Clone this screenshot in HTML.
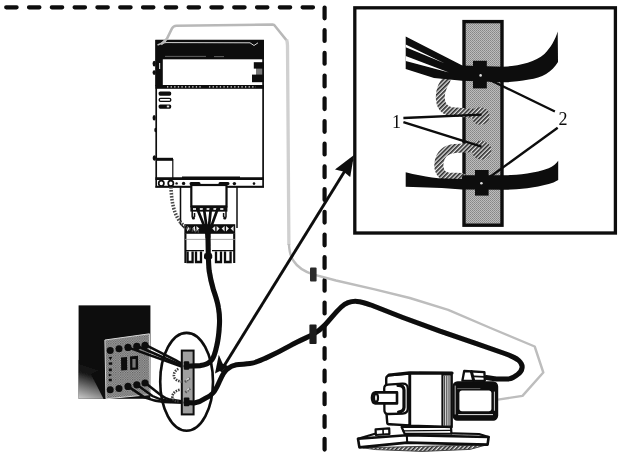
<!DOCTYPE html>
<html><head><meta charset="utf-8">
<style>
html,body{margin:0;padding:0;background:#fff;}
body{width:626px;height:461px;overflow:hidden;font-family:"Liberation Serif",serif;}
svg{display:block;}
</style></head><body>
<svg width="626" height="461" viewBox="0 0 626 461">
<defs>
<pattern id="dots" width="2" height="2" patternUnits="userSpaceOnUse"><rect width="2" height="2" fill="#bcbcbc"/><rect width="1" height="1" fill="#868686"/><rect x="1" y="1" width="1" height="1" fill="#929292"/></pattern>
<pattern id="hatch" width="3" height="3" patternUnits="userSpaceOnUse" patternTransform="rotate(-45)"><rect width="3" height="3" fill="#e6e6e6"/><rect width="3" height="1.65" fill="#2c2c2c"/></pattern>
<filter id="soft" x="-5%" y="-5%" width="110%" height="110%"><feGaussianBlur stdDeviation="0.45"/></filter>
</defs>
<rect width="626" height="461" fill="#fff"/>
<g filter="url(#soft)">
<!-- DASHED BORDERS -->
<g id="dashes" stroke="#0a0a0a" stroke-width="4.2" stroke-linecap="round" fill="none">
<path d="M6.2 7.3H315" stroke-dasharray="10.4 12.4"/>
<path d="M324.6 7.5V450" stroke-dasharray="10.8 11.9"/>
</g>
<!-- INSET BOX -->
<rect id="inset" x="354.8" y="7.8" width="260.6" height="225.2" fill="#fff" stroke="#0a0a0a" stroke-width="3.3"/>
<g id="insetc">
<!-- grey bar -->
<rect x="464" y="21.6" width="38" height="203.6" fill="url(#dots)" stroke="#0d0d0d" stroke-width="3.4"/>
<!-- hatched loops -->
<g fill="none" stroke="url(#hatch)" stroke-width="9" stroke-linecap="round" stroke-linejoin="round">
<path d="M446 80 C441 88 439 96 441 103 C443 110 449 112 456 112 L474 113.5 C480 110 486 112 485 117 C484 121 479 121 477 119"/>
<path d="M462 177.5 L448 177 C441 176 438 170 439 163 C440 154 446 149 455 148.5 L474 147.5 C480 143 488 146 487 151 C486 156 480 156 477 153"/>
</g>
<!-- top wires -->
<g fill="#0a0a0a" stroke="none">
<path d="M405.7 36.5 L462.3 65.6 L503 66.7 C520 66 535 62 544.4 54 C551 47 555 40 557.7 31.4 L558 62 C552 72 542 78 528.8 79.6 C520 81 512 82.3 503 82.3 L462.3 80.8 L434 78 L405.7 68.9 Z"/>
<path d="M405.7 44.4 L405.7 47.3 L445 63.6 Z" fill="#fff"/>
<path d="M405.7 56.1 L405.7 61 L449 72.6 Z" fill="#fff"/>
<rect x="473" y="60.8" width="13.8" height="27.6"/>
<!-- lower cable -->
<path d="M405.7 172.3 C415 174.6 424 176.4 432 177.6 C440 178.6 450 179 461.6 179 L462.6 175.3 L503.8 175.3 C518 175.3 534 173.5 548.7 168.3 C553 166.5 556 164 558.2 160.8 L558.2 180 C555 182 552 183.2 548.7 184 C534 187.8 518 189.8 503.8 189.8 L462 189.6 C445 187.6 425 187.6 405.7 186.8 Z"/>
<rect x="475" y="170" width="13.6" height="25.6"/>
</g>
<!-- leaders -->
<g stroke="#0a0a0a" stroke-width="2.3" fill="none" stroke-linecap="butt">
<path d="M403.4 118 L481.5 114.6"/>
<path d="M403.4 122.2 L481.5 146.6"/>
<path d="M554.9 111.5 L481 75.6"/>
<path d="M557.7 127.7 L481.5 183"/>
</g>
<circle cx="480.6" cy="75.4" r="1.3" fill="#ddd"/>
<circle cx="481.4" cy="183.2" r="1.3" fill="#ddd"/>
<text x="392" y="127.7" font-family="Liberation Serif, serif" font-size="18" fill="#0a0a0a">1</text>
<text x="558.6" y="124.8" font-family="Liberation Serif, serif" font-size="18" fill="#0a0a0a">2</text>
</g>
<g id="drive">
<!-- body -->
<rect x="156.2" y="40.6" width="106.9" height="146" fill="#fff" stroke="#0d0d0d" stroke-width="1.7"/>
<!-- header black -->
<rect x="155.4" y="40" width="108.6" height="19.3" fill="#0a0a0a"/>
<path d="M160 43.6 L166 42.6 L250 42.8 L254 45.5 L258 42.8" stroke="#d8d8d8" stroke-width="1" fill="none"/>
<path d="M157.5 45 L166 41.5" stroke="#bbb" stroke-width="1.6" fill="none"/>
<path d="M165 56.4 H206 M214 56.6 H224" stroke="#888" stroke-width="0.7" fill="none"/>
<!-- upper panel -->
<rect x="155.4" y="59" width="7.4" height="27" fill="#0a0a0a"/>
<rect x="159" y="63" width="1.2" height="6" fill="#ccc"/>
<rect x="253.8" y="62.2" width="10" height="6.4" fill="#0a0a0a"/>
<rect x="252" y="74.6" width="11.8" height="7.6" fill="#0a0a0a"/>
<rect x="256" y="68" width="8" height="7" fill="#0a0a0a" opacity="0.55"/>
<!-- dotted band -->
<rect x="155.4" y="85" width="108.6" height="3.8" fill="#0a0a0a"/>
<path d="M167 86.9 H203 M209 86.9 H256" stroke="#e8e8e8" stroke-width="1.2" stroke-dasharray="1.3 2.3" fill="none"/>
<!-- side knobs -->
<g fill="#0a0a0a">
<ellipse cx="154.2" cy="63.6" rx="1.6" ry="2.8"/><ellipse cx="154.2" cy="72.6" rx="1.6" ry="2.4"/>
<ellipse cx="154.2" cy="117.8" rx="1.6" ry="2.8"/><ellipse cx="155.6" cy="130" rx="1.3" ry="2.2"/>
<ellipse cx="154.4" cy="158" rx="1.7" ry="2.8"/>
</g>
<!-- labels -->
<rect x="158.6" y="91.4" width="12.6" height="4.3" rx="1.6" fill="#0a0a0a"/>
<rect x="159.2" y="98.4" width="11.6" height="3" rx="1.4" fill="#fff" stroke="#0a0a0a" stroke-width="1.3"/>
<rect x="158.6" y="104.5" width="12.6" height="4.2" rx="1.6" fill="#0a0a0a"/>
<rect x="166.8" y="105.6" width="2.4" height="1.8" fill="#ddd"/>
<!-- small box lower-left -->
<rect x="156" y="157.8" width="17" height="3" fill="#0a0a0a"/>
<path d="M172.8 159 V178.5" stroke="#0d0d0d" stroke-width="1.2" fill="none"/>
<!-- bottom band -->
<path d="M155.4 178.6 H264" stroke="#0a0a0a" stroke-width="2.6" fill="none"/>
<path d="M155.4 186.9 H264" stroke="#0a0a0a" stroke-width="1.5" fill="none"/>
<path d="M182 178 H240" stroke="#0a0a0a" stroke-width="3" fill="none"/>
<g fill="#fff" stroke="#0a0a0a" stroke-width="1.7"><ellipse cx="161.3" cy="183.3" rx="2.6" ry="2.7"/><ellipse cx="170.8" cy="183.3" rx="2.6" ry="2.7"/></g>
<g fill="#0a0a0a"><circle cx="183.6" cy="183.4" r="1.7"/><circle cx="234.4" cy="183.6" r="1.7"/><circle cx="254" cy="183.6" r="1.3"/><circle cx="176.6" cy="183.4" r="1.2"/></g>
<!-- bracket -->
<path d="M180.5 186.5 V224 L184.4 228 M237 186.5 V228" stroke="#0d0d0d" stroke-width="1.5" fill="none"/>
<rect x="191.3" y="185" width="35.2" height="21.4" fill="#fff" stroke="#0a0a0a" stroke-width="2.2"/>
<path d="M191 183.6 H199 M220 183.6 H228" stroke="#0a0a0a" stroke-width="3" stroke-linecap="round"/>
<!-- terminal row -->
<rect x="190.4" y="206.2" width="37" height="5.4" fill="#0a0a0a"/>
<path d="M193 208.9 H226" stroke="#d0d0d0" stroke-width="2" stroke-dasharray="3.2 3.6" fill="none"/>
<path d="M192.2 211 V217.5 M226 211 V217.5 M194.5 213 V217 M223.6 213 V217" stroke="#0a0a0a" stroke-width="1.5" fill="none"/>
<circle cx="193.4" cy="218" r="1.6" fill="#0a0a0a"/><circle cx="224.8" cy="218" r="1.6" fill="#0a0a0a"/>
<!-- dark band with marks -->
<rect x="184.4" y="224.2" width="50.8" height="9.6" fill="#0a0a0a"/>
<g fill="#e8e8e8"><path d="M187 226 l3 2.6 l-3 2.8 z M195 226 l-3 2.6 l3 2.8 z M196.4 226 l3 2.6 l-3 2.8 z"/>
<path d="M215.2 226 l-3 2.6 l3 2.8 z M216.6 226 l3 2.6 l-3 2.8 z M224.6 226 l-3 2.6 l3 2.8 z M226 226 l3 2.6 l-3 2.8 z M233.6 226 l-3 2.6 l3 2.8 z"/></g>
<!-- lower block -->
<path d="M185.4 233.5 V263 M234.2 233.5 V263" stroke="#0d0d0d" stroke-width="2.1" fill="none"/>
<path d="M185 239.4 H235" stroke="#999" stroke-width="0.8" fill="none"/>
<g fill="none" stroke="#0a0a0a" stroke-width="2.3">
<path d="M187.6 251.4 V262 H192.6 V251.4"/><path d="M196 251.4 V262 H201 V251.4"/>
<path d="M216 251.4 V262 H221 V251.4"/><path d="M225 251.4 V262 H230.6 V251.4"/>
</g>
<path d="M185 250.6 H204 M212 250.6 H235" stroke="#0a0a0a" stroke-width="1.4" fill="none"/>
<!-- wires to cable -->
<g stroke="#0a0a0a" stroke-width="2.7" fill="none" stroke-linecap="round">
<path d="M197.4 209 L205.8 230 L207 238"/><path d="M204 209 L207 230 L207.6 238"/><path d="M210.8 209 L208.6 230 L208.4 238"/><path d="M217.6 209 L210 230 L208.8 238"/>
</g>
<!-- grey dashed small cable -->
<path d="M171 187 C171.5 200 173 213 181 223 C186 228.5 192 230.5 199 231" stroke="#4a4a4a" stroke-width="3.6" stroke-dasharray="1.6 1.4" fill="none"/>
</g>
<g id="contactor">
<defs>
<linearGradient id="cg" gradientUnits="userSpaceOnUse" x1="98" y1="364" x2="86" y2="400"><stop offset="0" stop-color="#0a0a0a"/><stop offset="0.35" stop-color="#1a1a1a"/><stop offset="0.7" stop-color="#777"/><stop offset="1" stop-color="#c4c4c4"/></linearGradient>
<pattern id="pdots" width="2.4" height="2.4" patternUnits="userSpaceOnUse"><rect width="2.4" height="2.4" fill="#a2a2a2"/><rect width="1.2" height="1.2" fill="#5c5c5c"/><rect x="1.2" y="1.2" width="1.2" height="1.2" fill="#6c6c6c"/></pattern>
</defs>
<rect x="78.6" y="305.4" width="71.8" height="93.4" fill="#0a0a0a"/>
<path d="M78.6 360 L105 360 L105 398.8 L78.6 398.8 Z" fill="url(#cg)"/>
<path d="M91 374 L105.4 368 L105.8 399 L103.6 399 Z" fill="#0a0a0a"/>
<!-- front panel -->
<path d="M104.9 340 L149.4 333.8 L150.2 394.6 L106 398.8 Z" fill="url(#pdots)" stroke="#d6d6d6" stroke-width="1"/>
<g fill="#0d0d0d">
<circle cx="110.2" cy="350.4" r="3.5"/><circle cx="119" cy="348.8" r="3.5"/><circle cx="128" cy="347.4" r="3.6"/><circle cx="136.8" cy="346.4" r="3.6"/><circle cx="145" cy="345.4" r="3.6"/>
<circle cx="110.2" cy="389.8" r="3.5"/><circle cx="119" cy="388.4" r="3.5"/><circle cx="128" cy="386.4" r="3.6"/><circle cx="136.8" cy="384.8" r="3.6"/><circle cx="145" cy="383" r="3.6"/>
<path d="M121 357.6 L127 357 L127.2 370 L121.2 370.4 Z"/>
<path d="M130 356.6 L138 355.8 L138.2 369.4 L130.2 370 Z"/>
<rect x="132.4" y="359" width="3.2" height="8.6" fill="#777"/>
<path d="M108.6 357.2 l3.6 -0.4 l-1.6 3.4 z M108.8 362.4 l3.4 -0.2 v2.6 h-3.4 z M108.8 368.6 h3 v2.6 h-3 z M108.8 373.6 l3.4 1.4 l-3.4 1.6 z M108.8 378.8 h3 v2.4 h-3 z"/>
</g>
<!-- wires to bar -->
<g fill="none" stroke="#0d0d0d" stroke-width="2.5" stroke-linecap="round">
<path d="M128 347.4 L183 367"/><path d="M137 346 L183 366"/><path d="M145.4 344.8 L176 360.4 L183.6 364.8"/>
<path d="M128 386.4 L144.4 397.4 Q154 401.2 164 402 L183 402.8"/><path d="M137 384.8 L152.4 396 Q160 400 168 400.8 L183 402"/><path d="M145.4 383 L160.7 395 Q165 398.4 170 399.6 L183 401.4"/>
</g>
<!-- grey bar in ellipse -->
<rect x="181.8" y="350.6" width="11.8" height="63.8" fill="#a0a0a0" stroke="#101010" stroke-width="2"/>
<g fill="none" stroke="#3c3c3c" stroke-width="2.6" stroke-dasharray="1.5 1.1">
<path d="M178.4 368.8 C174.6 370.6 173 374.4 174.4 377.6 C176 380.6 179.6 381.6 183 381.6"/>
<path d="M179.6 389.8 C175 390.8 172.4 393.8 172.4 397 C172.6 400 175 401.4 178.6 401.4"/>
</g>
<path d="M185 382 L190.4 377.4 M185.4 392.4 L190.6 388" stroke="#555" stroke-width="2.6" stroke-dasharray="1.4 1" fill="none"/>
<path d="M186.4 380 L189 377.8 M186.8 390.4 L189.2 388.4" stroke="#e0e0e0" stroke-width="1.1" fill="none"/>
<rect x="183.8" y="361.2" width="5.4" height="8.6" rx="1" fill="#0a0a0a"/>
<rect x="183.8" y="397.4" width="5.6" height="8.8" rx="1" fill="#0a0a0a"/>
</g>
<g id="cables" fill="none">
<!-- thin grey cable -->
<path d="M161 44.4 L167 38.6 L172 28.4 Q173.4 25.8 176.4 25.7 L272.4 24.5 L274.2 25 L286.6 40.4" stroke="#b8b8b8" stroke-width="2.5" stroke-linejoin="round"/>
<path d="M286.6 39.6 Q287.4 42 287.5 45.5 L288.9 245" stroke="#d0d0d0" stroke-width="3.3" stroke-linejoin="round"/>
<path d="M288.9 244 Q289.6 256 293.6 261 Q299 269.6 313 274.4 L336 280.5 L374.7 289.3 L409.8 298 L448.2 309.8 L490.5 328 L534.7 346.5 L543.3 372.5 L522.5 395.9 L498 399.6" stroke="#bdbdbd" stroke-width="2.4" stroke-linejoin="round"/>
<!-- small connectors -->
<rect x="310" y="267.4" width="6.6" height="14" rx="1" fill="#2a2a2a" stroke="none"/>
<!-- arrow line -->
<path d="M220.6 371.4 L352.4 158.8" stroke="#0a0a0a" stroke-width="2.9"/>
<path d="M354 155 L335 169.6 L343.4 171.6 L350.2 177 Z" fill="#0a0a0a" stroke="none"/>
<path d="M215 373.4 L218.8 354.8 L222.6 363.6 L229 366.6 Z" fill="#0a0a0a" stroke="none"/>
<!-- ellipse -->
<ellipse cx="186.6" cy="381.8" rx="26.4" ry="48.9" stroke="#0a0a0a" stroke-width="2.6"/>
<!-- drive cable -->
<path d="M208 236 L208.3 255 C208.6 262 208.6 266 209.2 271 C210.4 279 211.6 283.5 213.2 289 C215.4 296 217.4 301 218.4 307.5 C219.6 314 219.8 319 219.4 325.5 C219 333 218.2 340 216.6 346.5 C215.4 352 214.2 356.5 212 359.6 C209.4 363.4 205.5 365.2 200 365.6 L186 366.2" stroke="#0a0a0a" stroke-width="5.1" stroke-linecap="round"/>
<rect x="204" y="253" width="8.2" height="6.6" rx="2.4" fill="#0a0a0a" stroke="none"/>
<!-- motor cable -->
<path d="M186 402.6 L194.3 403 C199 402.4 202 400.8 205 398.6 C208.4 397 211 395.4 213 393 C215.8 389.6 217.4 386 219 382.4 C221.2 377.6 223.4 372 227 369.2 C229.8 367 233 365.4 236.4 364.8 C240.4 364.2 245.6 364.2 250 363.6 C255.4 362.8 260 360.6 265.7 358.1 C274.6 354 282.4 350 290.3 345.6 C298 341.4 305 338.4 312 335 C317.6 332 321.8 328.4 325.4 324.5 C331.4 318 335.8 312 341.3 307 C346 302.8 351.4 301 357 301.4 C362 301.8 366.4 303.4 371 305 L402.8 317.5 L440 331.2 L476.4 343.6 L504.7 353.5 C510.6 355.6 515.6 357.6 518.8 360.5 C521.4 362.8 522.4 365 522.1 367.6 C521.8 370.6 519.8 373 517.3 374.7 C514.8 376.6 512 378.4 508.9 378.9 L496.2 378.9 L486.3 377.5" stroke="#0a0a0a" stroke-width="5" stroke-linecap="round" stroke-linejoin="round"/>
<rect x="309.4" y="324.4" width="7.2" height="19.6" rx="1" fill="#1c1c1c" stroke="none"/>
</g>
<g id="motor" stroke-linejoin="round" stroke-linecap="round">
<!-- shadow -->
<path d="M363 447.8 L486.8 444.8 L470 449.4 L422 451.4 L376 449.6 Z" fill="url(#hatch)" stroke="#444" stroke-width="1"/>

<!-- base plate -->
<path d="M358 438.8 L406.6 435.2 L488.6 437 L487.6 444.6 L407 442.6 L359.4 447.4 Z" fill="#fff" stroke="#0a0a0a" stroke-width="2.6"/>
<path d="M406.8 435.4 L407.2 442.4" stroke="#0a0a0a" stroke-width="2" fill="none"/>
<path d="M358 438.8 L375 433.8 M488.6 437 L479 434 L452 433.4" stroke="#0a0a0a" stroke-width="2.2" fill="none"/>
<!-- upper mounting plate -->
<path d="M401.6 427 L451 426.6 L451.4 433.6 L404.6 433.8 Z" fill="#fff" stroke="#0a0a0a" stroke-width="2.2"/>
<path d="M403 430.8 L451 430.4" stroke="#0a0a0a" stroke-width="1.3" fill="none"/>
<!-- small block -->
<path d="M375.6 429.4 L389.2 428.4 L389.4 434 L375.8 435 Z" fill="#fff" stroke="#0a0a0a" stroke-width="2.2"/>
<path d="M383 429 L383.2 434.4" stroke="#0a0a0a" stroke-width="1.6" fill="none"/>
<!-- gearbox front housing -->
<path d="M389 375.4 Q386.2 375.8 386.2 378.8 L386.4 412 L387.2 422.6 Q387.4 424.4 389.4 424.2 L409.6 425.4 L409.6 373.6 Z" fill="#fff" stroke="#0a0a0a" stroke-width="2.4"/>
<!-- main block -->
<path d="M410 373.4 L451.6 373.4 L451.6 427 L410 425.6 Z" fill="#fff" stroke="#0a0a0a" stroke-width="2.4"/>
<path d="M389 375 L410 372.8 L452 373" stroke="#0a0a0a" stroke-width="3.2" fill="none"/>
<!-- right side panel hatched -->
<path d="M442.4 374.6 L451.4 374.6 L451.4 426.6 L442.4 426.2 Z" fill="#e2e2e2" stroke="#0a0a0a" stroke-width="2"/>
<path d="M444.6 376 V425.6 M446.8 376 V425.8 M449 376 V426" stroke="#3a3a3a" stroke-width="1" fill="none"/>
<!-- flange -->
<path d="M388 384.6 L402.4 383.6 Q407.8 383.4 407.8 388.6 L407.8 408.6 Q407.8 413.4 402.6 413.6 L388.4 414 Q384.4 414 384.4 410.2 L384.2 388.4 Q384.2 384.8 388 384.6 Z" fill="#fff" stroke="#0a0a0a" stroke-width="2.3"/>
<path d="M398 385.4 Q403.8 385.2 404 390 L404 407.4 Q403.8 411.6 398.6 412" fill="none" stroke="#0a0a0a" stroke-width="3.2"/>
<!-- shaft -->
<path d="M375.4 392.2 L397 392.4 L397 403.4 L375.4 403.4 Q372 402.8 372 397.8 Q372 392.8 375.4 392.2 Z" fill="#fff" stroke="#0a0a0a" stroke-width="2.6"/>
<ellipse cx="376" cy="397.8" rx="2" ry="4" fill="#fff" stroke="#0a0a0a" stroke-width="2.2"/>
<!-- motor body -->
<rect x="453.2" y="382" width="44.2" height="38" rx="4.4" fill="#0d0d0d" stroke="#0a0a0a" stroke-width="1.6"/>
<rect x="459.4" y="390.6" width="32" height="20.6" rx="2.6" fill="#fff"/>
<path d="M494.4 392 V410.4" stroke="#e8e8e8" stroke-width="0.9" fill="none"/>
<path d="M458.6 414.6 H492.6" stroke="#e0e0e0" stroke-width="1" fill="none"/>
<path d="M455.2 386 V414" stroke="#cfcfcf" stroke-width="0.9" fill="none"/>
<path d="M457.6 388.6 H480" stroke="#888" stroke-width="0.7" fill="none"/>
<!-- terminal box -->
<path d="M462.4 380.6 L464.2 371 L484.4 372.2 L484.8 380.8 Z" fill="#fff" stroke="#0a0a0a" stroke-width="2.3"/>
<path d="M471.4 371.6 L473.6 380.4" stroke="#0a0a0a" stroke-width="3" fill="none"/>
<path d="M474 376.4 L484.6 376.8" stroke="#0a0a0a" stroke-width="1.8" fill="none"/>
</g>
</g>
</svg>
</body></html>
